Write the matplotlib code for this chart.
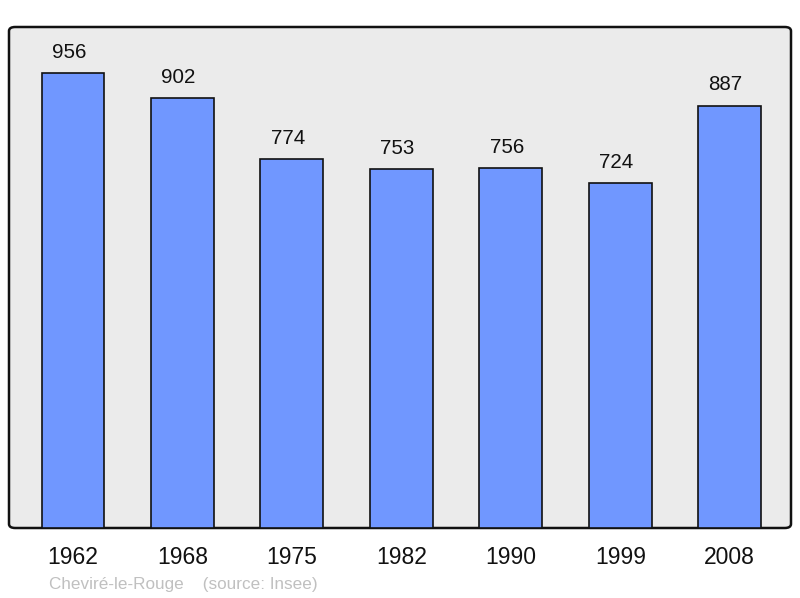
import matplotlib.pyplot as plt
from matplotlib.patches import FancyBboxPatch

years = ['1962', '1968', '1975', '1982', '1990', '1999', '2008']
population = [956, 902, 774, 753, 756, 724, 887]

plt.rcParams['font.family'] = ['Liberation Sans', 'DejaVu Sans']

fig = plt.figure(figsize=(8, 5.98), dpi=100)
ax = fig.add_axes([9 / 800, 70 / 598, 782 / 800, 501 / 598])
ax.set_facecolor('none')

# rounded gray frame behind the plot
frame = FancyBboxPatch((0, 0), 1, 1, boxstyle='round,pad=0,rounding_size=0.008',
                       transform=ax.transAxes, facecolor='#ebebeb', edgecolor='#111111',
                       linewidth=1.8, zorder=0, clip_on=False)
ax.add_patch(frame)

x = range(len(years))
ax.bar(x, population, width=0.575, color='#7097ff', edgecolor='#111111', linewidth=1.2, zorder=2)

for xi, v in zip(x, population):
    ax.annotate(str(v), (xi, v), xytext=(-3, 8), textcoords='offset points',
                ha='center', va='bottom', fontsize=14.8, color='#111111')

ax.set_xlim(-0.585, 6.56)
ax.set_ylim(0, 1052)
for s in ax.spines.values():
    s.set_visible(False)
ax.set_yticks([])
ax.set_xticks(list(x))
ax.set_xticklabels(years, fontsize=16.5, color='#111111')
ax.tick_params(axis='x', length=0, pad=13)

fig.text(49 / 800, 1 - 584 / 598, 'Cheviré-le-Rouge    (source: Insee)', fontsize=12.3,
         color='#c0c0c0', ha='left', va='center')

fig.savefig('out.png', dpi=100)
